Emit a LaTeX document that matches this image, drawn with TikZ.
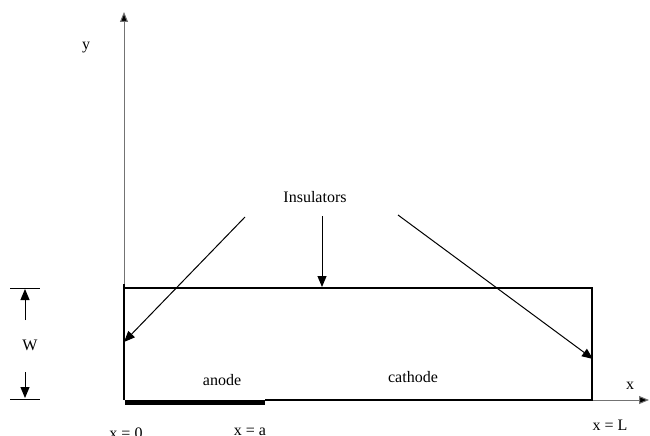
\documentclass[tikz,border=0pt]{standalone}
\usepackage{fontspec}
\setmainfont{Liberation Serif}
\usetikzlibrary{arrows.meta}
\tikzset{
  lbl/.style={inner sep=0pt, font=\fontsize{16}{19}\selectfont},
  axis/.style={draw=black!55, line width=1pt, -{Triangle[length=10pt,width=8pt]}, {Triangle[length=10pt,width=8pt,fill=black]}-},
  wall/.style={draw=black, line width=1.6pt},
  pointer/.style={draw=black, line width=1pt, -{Triangle[length=11pt,width=9pt]}},
  tick/.style={draw=black, line width=0.8pt}
}
\begin{document}
\begin{tikzpicture}[x=1pt,y=-1pt]
\useasboundingbox (0,0) rectangle (650,436);
% corners
\coordinate (O) at (124,400);
\coordinate (TL) at (124,288);
\coordinate (TR) at (592,288);
\coordinate (BR) at (592,400);
\coordinate (A) at (265,400);
\coordinate (Ytop) at (124,12);
\coordinate (Xend) at (649,400);
% axes
\draw[draw=black!55, line width=1pt, -{Triangle[length=10pt,width=8pt,fill=black]}] (O) -- (Ytop);
\draw[draw=black!55, line width=1pt, -{Triangle[length=10pt,width=8pt,fill=black]}] (BR) -- (Xend);
% box
\draw[wall] (TL) -- (TR) -- (BR) -- (A);
\draw[wall] (124,284) -- (O);
\draw[draw=black, line width=5pt] (124.5,402) -- (265,402);
% labels
\node[lbl] (ylab) at (86,48) {y};
\node[lbl] (xlab) at (630,386) {x};
\node[lbl] (anode) at (222,380) {anode};
\node[lbl] (cathode) at (413,377) {cathode};
\node[lbl] (ins) at (315,197) {Insulators};
\node[lbl, anchor=north] (x0) at (126,428) {x = 0};
\node[lbl, anchor=north] (xa) at (250,428) {x = a};
\node[lbl] (xL) at (610,425) {x = L};
% insulator pointers
\coordinate (s1) at (245,217);
\coordinate (t1) at (124,342);
\coordinate (s2) at (322,216);
\coordinate (t2) at (322,287);
\coordinate (s3) at (398,215);
\coordinate (t3) at (593,359);
\draw[pointer] (s1) -- (t1);
\draw[pointer] (s2) -- (t2);
\draw[pointer] (s3) -- (t3);
% W dimension
\coordinate (wt1) at (10,288);
\coordinate (wt2) at (40,288);
\coordinate (wb1) at (10,399);
\coordinate (wb2) at (40,399);
\draw[tick] (wt1) -- (wt2);
\draw[tick] (wb1) -- (wb2);
\node[lbl] (W) at (30,345) {W};
\coordinate (wu0) at (25,320);
\coordinate (wu1) at (25,289);
\coordinate (wd0) at (25,372);
\coordinate (wd1) at (25,398);
\draw[pointer] (wu0) -- (wu1);
\draw[pointer] (wd0) -- (wd1);
\end{tikzpicture}
\end{document}
